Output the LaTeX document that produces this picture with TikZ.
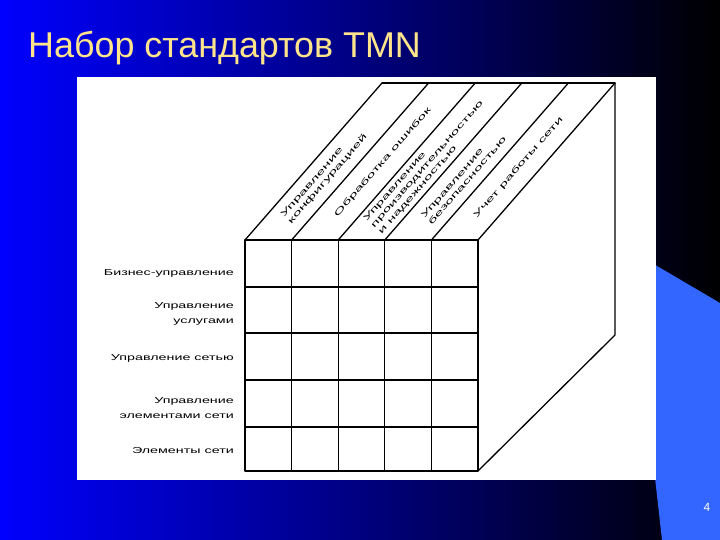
\documentclass[tikz,border=0pt]{standalone}
\usepackage{fontspec}
\setmainfont{Liberation Sans}
\newfontfamily\widesf[FakeStretch=1.65]{Liberation Sans}
\newfontfamily\widertop[FakeStretch=2.0]{Liberation Sans}
\definecolor{titleyellow}{RGB}{255,228,140}
\definecolor{lightblue}{RGB}{51,102,255}
\definecolor{midblue}{RGB}{0,0,175}
\begin{document}
\begin{tikzpicture}[x=1bp,y=-1bp,
  edge/.style={line width=1.3bp, line join=round, line cap=round},
  rowlab/.style={anchor=east, align=right, inner sep=0pt, font=\widesf\fontsize{8.7}{15}\selectfont},
  toplab/.style={anchor=west, align=left, inner sep=0pt, rotate=48.9, font=\widertop\fontsize{8.1}{9.8}\selectfont},
]
\useasboundingbox (0,0) rectangle (720,540);
\shade[left color=blue, middle color=midblue, right color=black] (0,0) rectangle (720,540);
\fill[lightblue] (640,256) -- (720,303) -- (720,540) -- (662,540) -- (653,460) -- (640,460) -- cycle;
\fill[white] (77,77) rectangle (656,480);

\node[anchor=base west, inner sep=0pt, text=titleyellow, font=\fontsize{36}{42}\selectfont] (title) at (28,58) {Набор стандартов TMN};
\node[text=white, font=\fontsize{12}{14}\selectfont] (page) at (707,507) {4};

% front face coordinates
\foreach \i/\x in {0/245,1/291.6,2/338.2,3/384.8,4/431.4,5/478}{
  \coordinate (t\i) at (\x,240);
  \coordinate (b\i) at (\x,471);
  \coordinate (k\i) at (\x+137,83);
}
\foreach \j/\y in {1/287,2/333,3/380,4/427}{
  \coordinate (l\j) at (245,\y);
  \coordinate (r\j) at (478,\y);
}
\coordinate (backbr) at (615,335);

% front face
\draw[edge] (t0) rectangle (b5);
\foreach \j in {1,...,4} \draw[edge] (l\j) -- (r\j);
\foreach \i in {1,...,4} \draw[edge] (t\i) -- (b\i);
% top face
\foreach \i in {0,...,5} \draw[edge] (t\i) -- (k\i);
\draw[edge] (k0) -- (k5);
% right face
\draw[edge] (k5) -- (backbr) -- (b5);

% row labels
\node[rowlab] (row1) at (234,273) {Бизнес-управление};
\node[rowlab] (row2) at (234,314) {Управление\\услугами};
\node[rowlab] (row3) at (234,358) {Управление сетью};
\node[rowlab] (row4) at (234,408) {Управление\\элементами сети};
\node[rowlab] (row5) at (234,451) {Элементы сети};

% top labels
\node[toplab] (col1) at (286.2,219.7) {Управление\\конфигурацией};
\node[toplab] (col2) at (336.0,215.9) {Обработка ошибок};
\node[toplab] (col3) at (372.7,227.2) {Управление\\производительностью\\и надежностью};
\node[toplab] (col4) at (426.1,220.4) {Управление\\безопасностью};
\node[toplab] (col5) at (475.2,217.4) {Учет работы сети};
\end{tikzpicture}
\end{document}
